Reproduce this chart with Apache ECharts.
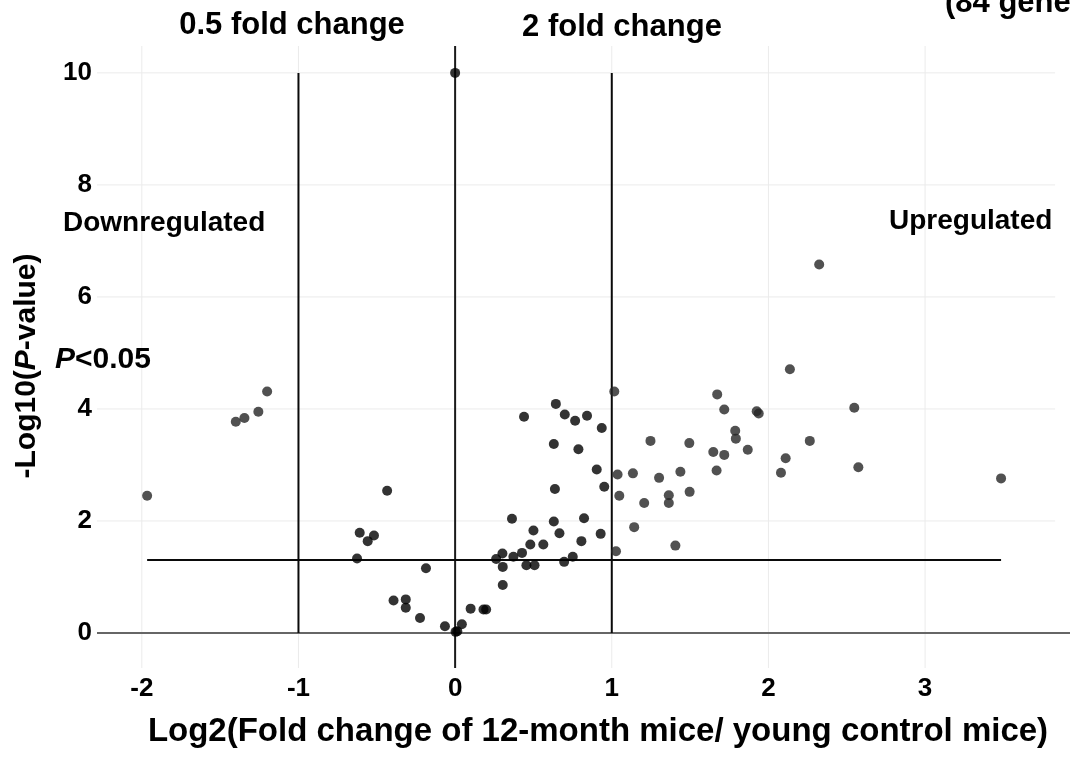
<!DOCTYPE html>
<html>
<head>
<meta charset="utf-8">
<script src="https://cdn.jsdelivr.net/npm/echarts@6/dist/echarts.min.js"></script>
<style>
html,body{margin:0;padding:0;background:#fff;}
#chart{width:1070px;height:763px;}
</style>
</head>
<body>
<div id="chart"></div>
<script>
// ---- data ----
const xTicks = [-2, -1, 0, 1, 2, 3];
const yTicks = [0, 2, 4, 6, 8, 10];
const foldThresholds = [-1, 1];
const pThreshold = 1.301; // -log10(0.05)

const downX = [-1.966, -1.40, -1.345, -1.256, -1.20];
const downY = [2.45, 3.77, 3.84, 3.95, 4.31];

const midX = [-0.626,-0.609,-0.558,-0.518,-0.434,-0.393,-0.315,-0.315,-0.224,-0.186,-0.065,0.003,0.014,0.0,0.043,0.099,0.181,0.198,0.262,0.302,0.304,0.304,0.363,0.372,0.427,0.44,0.455,0.48,0.50,0.507,0.563,0.63,0.63,0.637,0.643,0.666,0.696,0.70,0.751,0.766,0.787,0.806,0.823,0.842,0.904,0.929,0.936,0.952];
const midY = [1.33,1.79,1.64,1.74,2.54,0.58,0.60,0.45,0.268,1.155,0.12,0.02,0.03,10.0,0.155,0.435,0.42,0.42,1.32,1.42,1.18,0.857,2.04,1.36,1.43,3.86,1.21,1.58,1.83,1.21,1.58,1.99,3.375,2.57,4.09,1.78,1.27,3.90,1.36,3.79,3.28,1.64,2.05,3.88,2.92,1.77,3.66,2.61];

const upX = [1.016,1.027,1.037,1.048,1.135,1.143,1.207,1.247,1.302,1.364,1.364,1.406,1.438,1.495,1.497,1.648,1.669,1.673,1.718,1.718,1.788,1.792,1.868,1.925,1.938,2.08,2.11,2.137,2.264,2.324,2.548,2.574,3.485];
const upY = [4.31,1.46,2.83,2.45,2.85,1.89,2.32,3.43,2.77,2.46,2.32,1.56,2.88,3.39,2.52,3.23,2.90,4.26,3.99,3.18,3.61,3.47,3.27,3.96,3.92,2.86,3.12,4.71,3.43,6.58,4.02,2.96,2.76];

// axis extents
const xMin = -2.286, xMax = 3.925, xGridEnd = 3.83;
const yMin = -0.625, yMax = 10.48;

const zip = (xs, ys) => xs.map((x, i) => [x, ys[i]]);
const allX = downX.concat(midX, upX);
const dataXMin = Math.min.apply(null, allX), dataXMax = Math.max.apply(null, allX);

const FONT = '"Liberation Sans", Arial, Helvetica, sans-serif';
const INK = '#000000';

function seg(p1, p2, color, width, z) {
  return {
    type: 'line', data: [p1, p2], showSymbol: false, symbol: 'none',
    lineStyle: { color: color, width: width }, silent: true, z: z, animation: false
  };
}

const series = [];
// grid lines
yTicks.forEach(v => { if (v !== 0) series.push(seg([xMin, v], [xGridEnd, v], '#ebebeb', 1, 1)); });
xTicks.forEach(v => { if (v !== 0) series.push(seg([v, yMin], [v, yMax], '#ebebeb', 1, 1)); });
// zero lines
series.push(seg([xMin, 0], [xMax, 0], '#666666', 2, 2));
series.push(seg([0, yMin], [0, yMax], '#1a1a1a', 2, 2));
// thresholds
foldThresholds.forEach(v => series.push(seg([v, 0], [v, 10], '#0a0a0a', 2, 3)));
series.push(seg([dataXMin, pThreshold], [dataXMax, pThreshold], '#0a0a0a', 2, 3));
// points
series.push({ type: 'scatter', name: 'Downregulated', data: zip(downX, downY), symbolSize: 10, itemStyle: { color: '#262626' }, z: 5 });
series.push({ type: 'scatter', name: 'Unchanged', data: zip(midX, midY), symbolSize: 10, itemStyle: { color: '#000000' }, z: 5 });
series.push({ type: 'scatter', name: 'Upregulated', data: zip(upX, upY), symbolSize: 10, itemStyle: { color: '#262626' }, z: 5 });

function txt(x, y, text, size, align, rich, rot) {
  const el = {
    type: 'text', x: x, y: y, z: 20,
    style: { text: text, fontFamily: FONT, fontWeight: 'bold', fontSize: size, fill: INK, textAlign: align || 'left', textVerticalAlign: 'middle' }
  };
  if (rich) el.style.rich = rich;
  if (rot) el.rotation = rot;
  return el;
}
const richP = (size) => ({
  i: { fontFamily: FONT, fontWeight: 'bold', fontStyle: 'italic', fontSize: size, fill: INK },
  a: { fontFamily: FONT, fontWeight: 'bold', fontSize: size, fill: INK }
});

const chart = echarts.init(document.getElementById('chart'));
chart.setOption({
  animation: false,
  backgroundColor: '#ffffff',
  grid: { left: 97, right: 0, top: 46, bottom: 95 },
  xAxis: {
    type: 'value', min: xMin, max: xMax,
    splitLine: { show: false }, axisLine: { show: false }, axisTick: { show: false },
    axisLabel: { customValues: xTicks, margin: 8, fontFamily: FONT, fontWeight: 'bold', fontSize: 26, color: INK }
  },
  yAxis: {
    type: 'value', min: yMin, max: yMax,
    splitLine: { show: false }, axisLine: { show: false }, axisTick: { show: false },
    axisLabel: { customValues: yTicks, margin: 5, fontFamily: FONT, fontWeight: 'bold', fontSize: 26, color: INK }
  },
  series: series,
  graphic: [
    txt(292, 25, '0.5 fold change', 31, 'center'),
    txt(622, 27, '2 fold change', 31, 'center'),
    txt(945, 3, '(84 genes)', 31, 'left'),
    txt(63, 223, 'Downregulated', 28, 'left'),
    txt(889, 221, 'Upregulated', 28, 'left'),
    txt(55, 360, '{i|P}{a|<0.05}', 30, 'left', richP(30)),
    txt(27, 366, '{a|-Log10(}{i|P}{a|-value)}', 30, 'center', richP(30), Math.PI / 2),
    txt(598, 732, 'Log2(Fold change of 12-month mice/ young control mice)', 33, 'center')
  ]
});
</script>
</body>
</html>
